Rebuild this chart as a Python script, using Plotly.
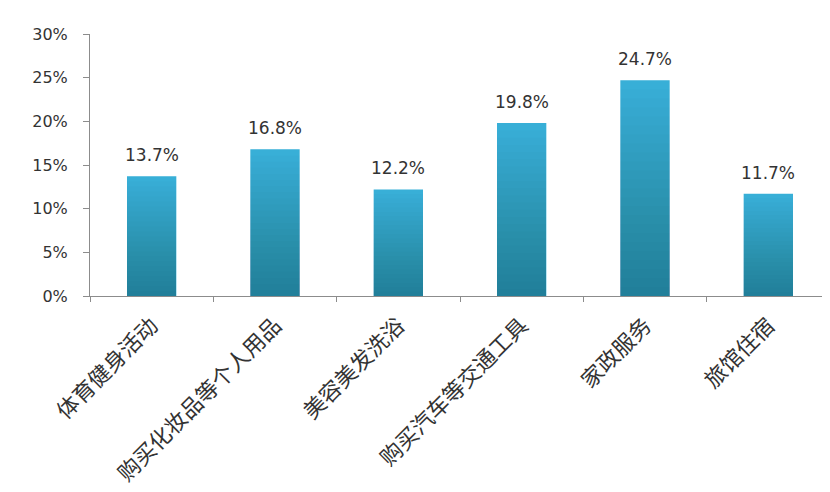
import plotly.graph_objects as go

categories = ["体育健身活动", "购买化妆品等个人用品", "美容美发洗浴", "购买汽车等交通工具", "家政服务", "旅馆住宿"]
values = [13.7, 16.8, 12.2, 19.8, 24.7, 11.7]
y_ticks = [0, 5, 10, 15, 20, 25, 30]
y_tick_labels = [f"{t}%" for t in y_ticks]

fig = go.Figure()
BAR_W = 0.4
fig.add_trace(go.Bar(
    x=categories, y=values, width=BAR_W,
    marker=dict(color="#39b2da", line=dict(width=0)),
    hoverinfo="skip",
))
# gradient shading: stacked translucent overlays, darker toward the bottom
N = 24
for i in range(1, N + 1):
    fig.add_trace(go.Bar(
        x=categories, y=[v * i / N for v in values], width=BAR_W,
        marker=dict(color="rgba(0,20,40,0.013)", line=dict(width=0)),
        hoverinfo="skip", showlegend=False,
    ))

for c, v in zip(categories, values):
    fig.add_annotation(
        x=c, y=v, text=f"{v}%", showarrow=False,
        yanchor="bottom", yshift=9,
        font=dict(family="DejaVu Sans", size=17, color="#333333"),
    )

# page body has an 8px margin, so the figure is sized to fit the window
fig.update_layout(
    width=822, height=484,
    margin=dict(l=82, r=0, t=26, b=196, autoexpand=False),
    paper_bgcolor="white", plot_bgcolor="white",
    barmode="overlay", showlegend=False,
    font=dict(family="DejaVu Sans", color="#333333"),
)
fig.update_yaxes(
    range=[0, 30], tickvals=y_ticks, ticktext=y_tick_labels,
    showgrid=False, zeroline=False,
    showline=True, linecolor="#8c8c8c", linewidth=1,
    ticks="outside", ticklen=6, tickcolor="#8c8c8c",
    tickfont=dict(family="DejaVu Sans", size=16, color="#333333"),
    ticklabelstandoff=12,
)
fig.update_xaxes(
    showgrid=False, zeroline=False,
    showline=True, linecolor="#8c8c8c", linewidth=1,
    ticks="outside", ticklen=5, tickcolor="#8c8c8c", tickson="boundaries",
    tickangle=-45,
    tickfont=dict(family="Noto Sans CJK SC", size=22, color="#333333"),
    ticklabelstandoff=7,
)

fig.write_html("out.html")
